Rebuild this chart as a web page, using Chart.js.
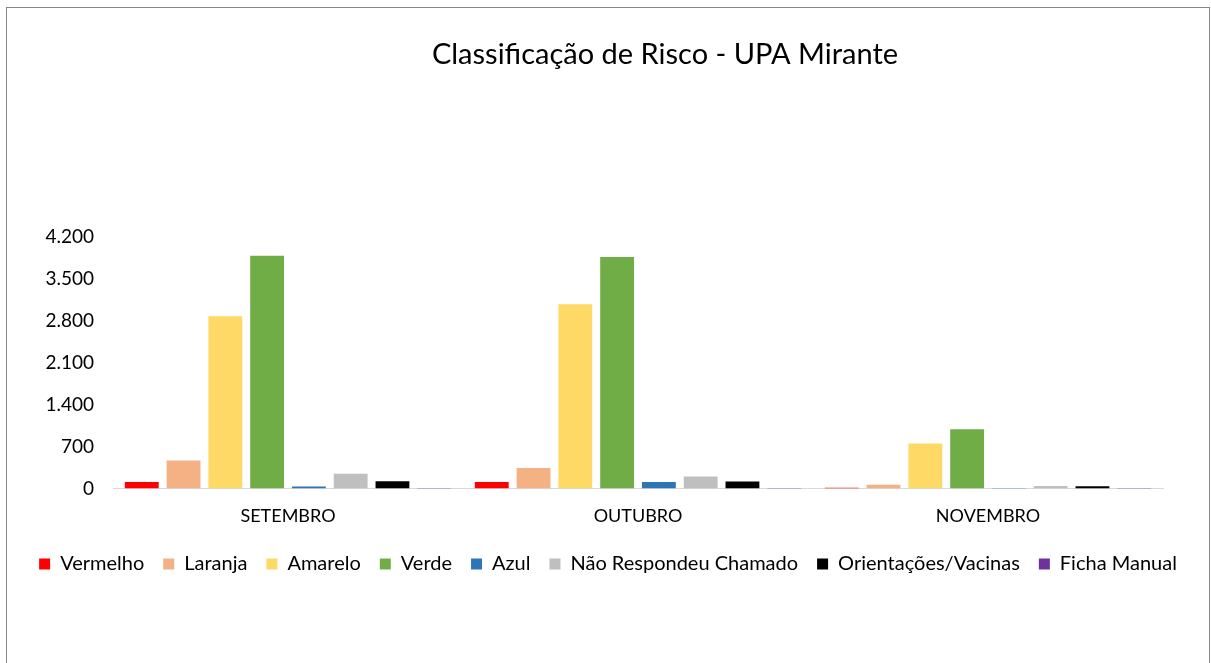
<!DOCTYPE html>
<html>
<head>
<meta charset="utf-8">
<script src="https://cdn.jsdelivr.net/npm/chart.js@4.4.0/dist/chart.umd.min.js"></script>
<style>
  body { margin: 0; background: #fff; }
  #box { position: absolute; left: 6px; top: 7px; width: 1202px; height: 670px; border: 1px solid #868686; }
  canvas { display: block; }
</style>
</head>
<body>
<div id="box"><canvas id="riskChart" width="1202" height="670"></canvas></div>
<script>
// data
const months = ['SETEMBRO', 'OUTUBRO', 'NOVEMBRO'];
const vermelho = [105, 105, 10];
const laranja = [465, 340, 62];
const amarelo = [2875, 3075, 750];
const verde = [3885, 3865, 990];
const azul = [30, 105, 8];
const naoRespondeu = [245, 200, 40];
const orientacoes = [118, 115, 34];
const fichaManual = [6, 6, 5];
const yTicks = [0, 700, 1400, 2100, 2800, 3500, 4200];
const chartTitle = 'Classificação de Risco - UPA Mirante';

const series = [
  { label: 'Vermelho', data: vermelho, color: '#FF0000' },
  { label: 'Laranja', data: laranja, color: '#F4B183' },
  { label: 'Amarelo', data: amarelo, color: '#FFD966' },
  { label: 'Verde', data: verde, color: '#70AD47' },
  { label: 'Azul', data: azul, color: '#2E75B6' },
  { label: 'Não Respondeu Chamado', data: naoRespondeu, color: '#BFBFBF' },
  { label: 'Orientações/Vacinas', data: orientacoes, color: '#000000' },
  { label: 'Ficha Manual', data: fichaManual, color: '#7030A0' }
];

// title drawn a bit right of centre, like the original
const titlePlugin = {
  id: 'titleText',
  afterDraw(chart) {
    const ctx = chart.ctx;
    ctx.save();
    ctx.font = '29px Lato';
    ctx.fillStyle = '#000';
    ctx.textAlign = 'center';
    ctx.textBaseline = 'middle';
    ctx.fillText(chartTitle, 658, 47);
    ctx.restore();
  }
};

new Chart(document.getElementById('riskChart'), {
  type: 'bar',
  data: {
    labels: months,
    datasets: series.map(s => ({
      label: s.label,
      data: s.data,
      backgroundColor: s.color,
      borderWidth: 0,
      categoryPercentage: 0.955,
      barPercentage: 0.81
    }))
  },
  options: {
    responsive: false,
    animation: false,
    locale: 'pt-BR',
    layout: { padding: { left: 4, right: 4, top: 229, bottom: 94 } },
    plugins: {
      tooltip: { enabled: false },
      title: { display: false },
      legend: {
        position: 'bottom',
        labels: {
          boxWidth: 11,
          boxHeight: 11,
          padding: 19,
          color: '#000',
          font: { family: 'Lato', size: 20 }
        }
      }
    },
    scales: {
      x: {
        grid: { display: false },
        border: { display: true, color: '#D9D9D9', width: 1 },
        ticks: { color: '#000', padding: 9, font: { family: 'Lato', size: 18 } },
        afterFit(axis) {
          axis.height -= 1;
          axis.paddingLeft = 0;
          axis.paddingRight = 0;
        }
      },
      y: {
        min: 0,
        max: 4200,
        afterBuildTicks(axis) { axis.ticks = yTicks.map(v => ({ value: v })); },
        grid: { display: false, drawTicks: false },
        border: { display: false },
        ticks: { color: '#000', padding: 19, font: { family: 'Lato', size: 19 } },
        afterFit(axis) { axis.width = 102; }
      },
      // empty right-hand axis, only keeps the plot clear of the right edge
      yRight: {
        position: 'right',
        grid: { display: false, drawTicks: false },
        border: { display: false },
        ticks: { display: false },
        afterFit(axis) { axis.width = 42; }
      }
    }
  },
  plugins: [titlePlugin]
});
</script>
</body>
</html>
